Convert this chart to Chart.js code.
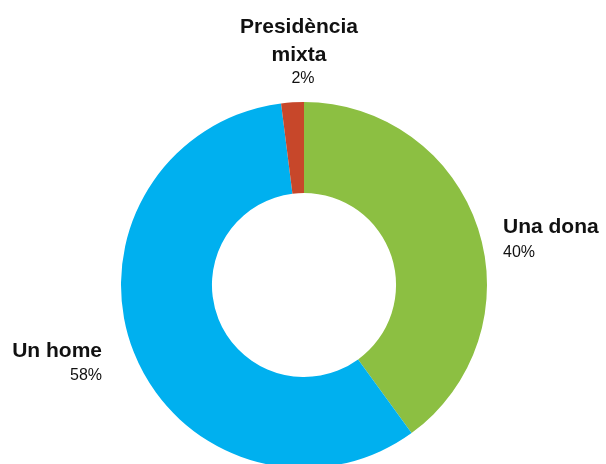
<!DOCTYPE html>
<html>
<head>
<meta charset="utf-8">
<script src="https://cdn.jsdelivr.net/npm/chart.js@4"></script>
<style>
    html, body { margin: 0; padding: 0; background: #fff; overflow: hidden; }
    #wrap { position: relative; width: 606px; height: 470px; }
</style>
</head>
<body>
<div id="wrap"><canvas id="display"></canvas></div>
<script>
// categories and values, clockwise from the top
const categories = ["Una dona", "Un home", "Presidència mixta"];
const values = [40, 58, 2];
const sliceColors = ["#8cbf42", "#00b0ef", "#c7472a"];

let labelPlugin = {
    id: "sliceLabels",
    afterDraw: function (chart) {
        const ctx = chart.ctx;
        const arc = chart.getDatasetMeta(0).data[0];
        const cx = arc.x, cy = arc.y, r = arc.outerRadius;
        const bold = "bold 21px 'Liberation Sans', Arial, sans-serif";
        const normal = "16px 'Liberation Sans', Arial, sans-serif";
        ctx.save();
        ctx.fillStyle = "#111";
        ctx.textBaseline = "alphabetic";

        // Una dona (right side)
        ctx.textAlign = "left";
        ctx.font = bold;
        ctx.fillText(categories[0], cx + r + 16, cy - 52);
        ctx.font = normal;
        ctx.fillText(values[0] + "%", cx + r + 16, cy - 28);

        // Un home (left side)
        ctx.textAlign = "right";
        ctx.font = bold;
        ctx.fillText(categories[1], cx - r - 19, cy + 72);
        ctx.font = normal;
        ctx.fillText(values[1] + "%", cx - r - 19, cy + 95);

        // Presidència mixta (above)
        ctx.textAlign = "center";
        ctx.font = bold;
        const words = categories[2].split(" ");
        ctx.fillText(words[0], cx - 5, cy - r - 69);
        ctx.fillText(words[1], cx - 5, cy - r - 41);
        ctx.font = normal;
        ctx.fillText(values[2] + "%", cx - 1, cy - r - 19);
        ctx.restore();
    }
};

const chart = new Chart(document.getElementById("display"), {
    type: "doughnut",
    data: {
        labels: categories,
        datasets: [{
            data: values,
            backgroundColor: sliceColors,
            borderWidth: 0
        }]
    },
    options: {
        responsive: true,
        maintainAspectRatio: false,
        animation: false,
        cutout: "50.3%",
        layout: { padding: { top: 102, bottom: 2, left: 2, right: 0 } },
        plugins: {
            legend: { display: false },
            tooltip: { enabled: false }
        }
    },
    plugins: [labelPlugin]
});
</script>
</body>
</html>
